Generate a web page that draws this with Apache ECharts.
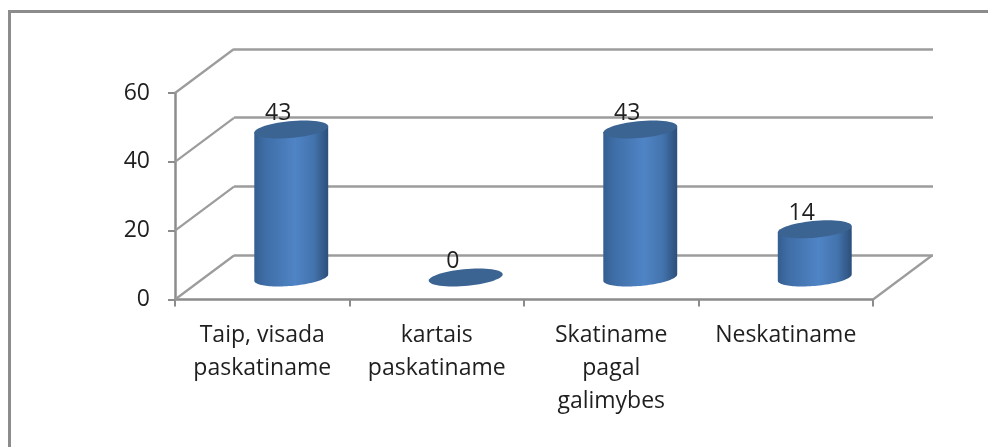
<!DOCTYPE html>
<html><head><meta charset="utf-8">
<style>html,body{margin:0;padding:0;background:#fff}#c{width:988px;height:447px}</style>
<script src="https://cdn.jsdelivr.net/npm/echarts@6/dist/echarts.min.js"></script>
</head><body><div id="c"></div>
<script>
const categories = ['Taip, visada\npaskatiname', 'kartais\npaskatiname', 'Skatiname\npagal\ngalimybes', 'Neskatiname'];
const values = [43, 0, 43, 14];
const yTicks = [0, 20, 40, 60];

const depthX = 59, depthY = -44;
const RX = 34.6, DX = 13, DY = 9;
const axisColor = '#8c8c8c';
const font = '"Open Sans"';

function ellipsePoint(cx, cy, t) {
  return [cx + RX * Math.cos(t) + DX * Math.sin(t), cy - DY * Math.sin(t)];
}
function arcPoints(cx, cy, from, to, n) {
  const out = [];
  for (let i = 0; i <= n; i++) out.push(ellipsePoint(cx, cy, from + (to - from) * i / n));
  return out;
}
const chart = echarts.init(document.getElementById('c'), null, {renderer: 'canvas'});
chart.setOption({
  animation: false,
  backgroundColor: '#fff',
  graphic: [{type: 'polyline', silent: true, z: 0,
    shape: {points: [[9.5, 447], [9.5, 11.5], [988, 11.5]]},
    style: {stroke: '#8c8c8c', lineWidth: 3, fill: null}}],
  grid: [
    {left: 175, right: 115, top: 93, bottom: 147.5},
    {left: 234, right: 55, top: 49, bottom: 192}
  ],
  xAxis: [
    {type: 'category', gridIndex: 0, data: categories,
      axisLine: {lineStyle: {color: axisColor, width: 2.5}},
      axisTick: {show: true, alignWithLabel: false, length: 7, lineStyle: {color: axisColor, width: 2}},
      axisLabel: {color: '#1f1f1f', fontFamily: font, fontSize: 23, lineHeight: 33, margin: 19, interval: 0}},
    {type: 'category', gridIndex: 1, data: categories, show: false}
  ],
  yAxis: [
    {type: 'value', gridIndex: 0, min: 0, max: 60, interval: 20,
      axisLine: {show: true, lineStyle: {color: axisColor, width: 2.5}},
      axisTick: {show: true, length: 7, lineStyle: {color: axisColor, width: 2}},
      splitLine: {show: false},
      axisLabel: {color: '#1f1f1f', fontFamily: font, fontSize: 23, margin: 25, padding: [3, 0, 0, 0]}},
    {type: 'value', gridIndex: 1, min: 0, max: 60, interval: 20,
      axisLine: {show: false}, axisTick: {show: false}, axisLabel: {show: false},
      splitLine: {show: true, lineStyle: {color: '#9c9c9c', width: 2.5}}}
  ],
  series: [
    {type: 'custom', xAxisIndex: 0, yAxisIndex: 0, z: 1, silent: true,
      coordinateSystem: 'cartesian2d',
      data: yTicks.map(v => [0, v]),
      encode: {x: 0, y: 1},
      clip: false,
      renderItem(params, api) {
        const v = api.value(1);
        const size = api.size([1, 0]);
        const p = api.coord([0, v]);
        const x0 = p[0] - size[0] / 2;
        const kids = [{type: 'line',
          shape: {x1: x0, y1: p[1], x2: x0 + depthX, y2: p[1] + depthY},
          style: {stroke: '#9c9c9c', lineWidth: 2.2}}];
        if (v === 0) {
          const xr = x0 + size[0] * categories.length;
          kids.push({type: 'line',
            shape: {x1: xr, y1: p[1], x2: xr + depthX, y2: p[1] + depthY},
            style: {stroke: '#9c9c9c', lineWidth: 2.2}});
        }
        return {type: 'group', children: kids};
      }},
    {type: 'custom', xAxisIndex: 0, yAxisIndex: 0, z: 5,
      coordinateSystem: 'cartesian2d',
      data: values.map((v, i) => [i, v]),
      encode: {x: 0, y: 1},
      clip: false,
      renderItem(params, api) {
        const i = api.value(0), v = api.value(1);
        const top = api.coord([i, v]);
        const base = api.coord([i, 0]);
        const cx = top[0] + depthX / 2 - 0.5;
        const tyc = top[1] + depthY / 2, byc = base[1] + depthY / 2;
        const tRight = Math.atan2(DX, RX);
        const tLeft = tRight + Math.PI;
        const kids = [];
        if (v > 0) {
          const pts = [ellipsePoint(cx, tyc, tLeft), ellipsePoint(cx, tyc, tRight)]
            .concat(arcPoints(cx, byc, tRight, tLeft - 2 * Math.PI, 50));
          kids.push({type: 'polygon', shape: {points: pts},
            style: {fill: new echarts.graphic.LinearGradient(0, 0, 1, 0, [
              {offset: 0, color: '#355e90'},
              {offset: 0.15, color: '#3f6ea7'},
              {offset: 0.55, color: '#4f84c5'},
              {offset: 0.8, color: '#4474ae'},
              {offset: 1, color: '#2c4f7a'}
            ])}});
        }
        kids.push({type: 'polygon', shape: {points: arcPoints(cx, tyc, 0, 2 * Math.PI, 60)},
          style: {fill: '#3b6493'}});
        kids.push({type: 'text', x: cx - 13, y: tyc - 16,
          style: {text: String(v), fill: '#1f1f1f', font: '23px ' + font, align: 'center', verticalAlign: 'middle'}});
        return {type: 'group', children: kids};
      }}
  ]
});
</script></body></html>
